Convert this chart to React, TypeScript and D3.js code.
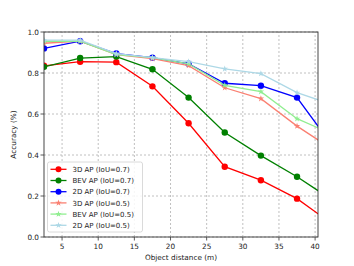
import * as d3 from "d3"

const distances = [2.5, 7.5, 12.5, 17.5, 22.5, 27.5, 32.5, 37.5, 42.5]
const xTicks = [5, 10, 15, 20, 25, 30, 35, 40]
const yTicks = [0, 0.2, 0.4, 0.6, 0.8, 1.0]

const ap3d07 = [0.835, 0.855, 0.853, 0.735, 0.555, 0.343, 0.277, 0.187, 0.06]
const apBev07 = [0.83, 0.873, 0.88, 0.818, 0.68, 0.51, 0.397, 0.294, 0.177]
const ap2d07 = [0.92, 0.955, 0.895, 0.875, 0.845, 0.75, 0.738, 0.68, 0.44]
const ap3d05 = [0.945, 0.955, 0.89, 0.87, 0.836, 0.728, 0.675, 0.541, 0.425]
const apBev05 = [0.955, 0.955, 0.89, 0.875, 0.845, 0.74, 0.709, 0.577, 0.5]
const ap2d05 = [0.96, 0.96, 0.895, 0.875, 0.855, 0.82, 0.797, 0.704, 0.645]

interface Series {
    label: string;
    values: number[];
    color: string;
    marker: "circle" | "star";
}

const series: Series[] = [
    { label: "3D AP (IoU=0.7)", values: ap3d07, color: "#ff0000", marker: "circle" },
    { label: "BEV AP (IoU=0.7)", values: apBev07, color: "#008000", marker: "circle" },
    { label: "2D AP (IoU=0.7)", values: ap2d07, color: "#0000ff", marker: "circle" },
    { label: "3D AP (IoU=0.5)", values: ap3d05, color: "#fa8072", marker: "star" },
    { label: "BEV AP (IoU=0.5)", values: apBev05, color: "#90ee90", marker: "star" },
    { label: "2D AP (IoU=0.5)", values: ap2d05, color: "#add8e6", marker: "star" },
]

const margin = { left: 44, right: 36, top: 32, bottom: 29 }
const width = 354
const height = 266
const font = "DejaVu Sans, sans-serif"

const starPath = d3.symbol().type(d3.symbolStar).size(13)()

export default function App() {
    const x = d3.scaleLinear().domain([2.5, 40.4]).range([margin.left, width - margin.right])
    const y = d3.scaleLinear().domain([0, 1]).range([height - margin.bottom, margin.top])
    const line = d3.line<number>().x((_, i) => x(distances[i])).y((v) => y(v))
    const [x0, x1] = x.range()
    const [y0, y1] = y.range()

    const legendX = 47.5
    const legendY = 162
    const rowH = 11.2

    return (
        <svg width={width} height={height} style={{ position: "absolute", left: 0, top: 0 }}>
            <defs>
                <clipPath id="plot">
                    <rect x={x0} y={y1} width={x1 - x0} height={y0 - y1} />
                </clipPath>
            </defs>
            <rect width={width} height={height} fill="white" />
            {/* grid */}
            {xTicks.map((t) => (
                <line key={"gx" + t} x1={x(t)} x2={x(t)} y1={y0} y2={y1} stroke="#b0b0b0" strokeWidth={0.8} strokeDasharray="2,2" />
            ))}
            {yTicks.map((t) => (
                <line key={"gy" + t} x1={x0} x2={x1} y1={y(t)} y2={y(t)} stroke="#b0b0b0" strokeWidth={0.8} strokeDasharray="2,2" />
            ))}
            {/* series */}
            <g clipPath="url(#plot)">
                {series.map((s) => (
                    <g key={s.label}>
                        <path d={line(s.values) ?? ""} fill="none" stroke={s.color} strokeWidth={1.3} />
                        {s.values.map((v, i) =>
                            s.marker === "circle" ? (
                                <circle key={i} cx={x(distances[i])} cy={y(v)} r={3.2} fill={s.color} />
                            ) : (
                                <path key={i} d={starPath ?? ""} transform={`translate(${x(distances[i])},${y(v)})`} fill={s.color} />
                            )
                        )}
                    </g>
                ))}
            </g>
            {/* frame */}
            <rect x={x0} y={y1} width={x1 - x0} height={y0 - y1} fill="none" stroke="#333" strokeWidth={0.9} />
            {/* axes */}
            {xTicks.map((t) => (
                <g key={"xt" + t}>
                    <line x1={x(t)} x2={x(t)} y1={y0} y2={y0 + 3.5} stroke="#333" strokeWidth={0.8} />
                    <text x={x(t)} y={y0 + 12} textAnchor="middle" fontFamily={font} fontSize={7.3} fill="#222">{t}</text>
                </g>
            ))}
            {yTicks.map((t) => (
                <g key={"yt" + t}>
                    <line x1={x0 - 3.5} x2={x0} y1={y(t)} y2={y(t)} stroke="#333" strokeWidth={0.8} />
                    <text x={x0 - 5} y={y(t) + 2.6} textAnchor="end" fontFamily={font} fontSize={7.3} fill="#222">{t.toFixed(1)}</text>
                </g>
            ))}
            <text x={(x0 + x1) / 2} y={y0 + 23} textAnchor="middle" fontFamily={font} fontSize={7.3} fill="#222">Object distance (m)</text>
            <text transform={`translate(16,${(y0 + y1) / 2}) rotate(-90)`} textAnchor="middle" fontFamily={font} fontSize={7.3} fill="#222">Accuracy (%)</text>
            {/* legend */}
            <rect x={legendX} y={legendY} width={95} height={70} rx={2} fill="white" fillOpacity={0.85} stroke="#d0d0d0" strokeWidth={0.8} />
            {series.map((s, i) => {
                const cy = legendY + 7.3 + i * rowH
                return (
                    <g key={"lg" + s.label}>
                        <line x1={legendX + 3} x2={legendX + 19} y1={cy} y2={cy} stroke={s.color} strokeWidth={1.3} />
                        {s.marker === "circle" ? (
                            <circle cx={legendX + 11} cy={cy} r={3} fill={s.color} />
                        ) : (
                            <path d={starPath ?? ""} transform={`translate(${legendX + 11},${cy})`} fill={s.color} />
                        )}
                        <text x={legendX + 25} y={cy + 2.6} fontFamily={font} fontSize={7} fill="#222">{s.label}</text>
                    </g>
                )
            })}
        </svg>
    )
}
